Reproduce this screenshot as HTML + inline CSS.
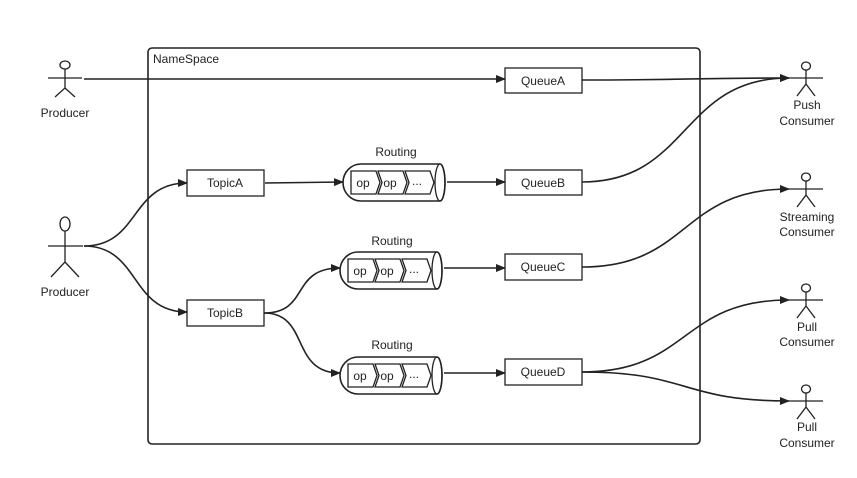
<!DOCTYPE html><html><head><style>body{margin:0;background:#fff}svg{display:block}text{font-family:"Liberation Sans",sans-serif;font-size:12px;fill:#222}</style></head><body>
<svg width="857" height="478" viewBox="0 0 857 478">
<defs><marker id="a" markerWidth="10" markerHeight="8" refX="9" refY="4" orient="auto" markerUnits="userSpaceOnUse"><path d="M0,0L10,4L0,8z" fill="#222"/></marker>
<g id="cyl" fill="none" stroke="#222" stroke-width="1.3"><path d="M18,0H97A5,18.5 0 0 1 97,37H18A18,18.5 0 0 1 18,0z" fill="#fff" stroke-width="1.6"/><ellipse cx="97" cy="18.5" rx="5" ry="18.5"/>
<path d="M8,7H33L37,18.5L33,30H8z"/><path d="M35,7H60L64,18.5L60,30H35L39,18.5z"/><path d="M62,7H87L91,18.5L87,30H62L66,18.5z"/></g>
<g id="cact" stroke="#222" stroke-width="1.3" fill="none"><ellipse cx="0" cy="-12" rx="4.5" ry="4"/><path d="M-17,0H17M0,-8V6L-9,18M0,6L9,18"/></g></defs>
<rect x="148" y="48" width="552" height="396" rx="4" fill="none" stroke="#222" stroke-width="1.6"/>
<text x="153" y="63">NameSpace</text>
<g stroke="#222" stroke-width="1.3" fill="none">
<ellipse cx="65" cy="65" rx="5" ry="4"/><path d="M48,78H82M65,69V88L55,97M65,88L75,97"/>
<ellipse cx="65" cy="224" rx="5" ry="7"/><path d="M48,246H83M65,231V262L51,277M65,262L79,277"/>
</g>
<use href="#cact" x="806" y="78"/><use href="#cact" x="806" y="189"/><use href="#cact" x="806" y="300"/><use href="#cact" x="806" y="401"/>
<g font-size="12" text-anchor="middle">
<text x="65" y="117" text-anchor="middle">Producer</text><text x="65" y="296" text-anchor="middle">Producer</text>
<text x="807" y="109" text-anchor="middle">Push</text><text x="807" y="125" text-anchor="middle">Consumer</text>
<text x="807" y="221" text-anchor="middle">Streaming</text><text x="807" y="236" text-anchor="middle">Consumer</text>
<text x="807" y="331" text-anchor="middle">Pull</text><text x="807" y="346" text-anchor="middle">Consumer</text>
<text x="807" y="431" text-anchor="middle">Pull</text><text x="807" y="447" text-anchor="middle">Consumer</text>
</g>
<g fill="#fff" stroke="#222" stroke-width="1.3">
<rect x="505" y="68" width="77" height="25"/><rect x="187" y="170" width="77" height="26"/><rect x="505" y="170" width="77" height="25"/>
<rect x="505" y="254" width="77" height="26"/><rect x="187" y="300" width="77" height="26"/><rect x="505" y="359" width="77" height="26"/>
</g>
<text x="543" y="85" text-anchor="middle">QueueA</text><text x="225" y="187" text-anchor="middle">TopicA</text><text x="543" y="187" text-anchor="middle">QueueB</text>
<text x="543" y="271" text-anchor="middle">QueueC</text><text x="225" y="317" text-anchor="middle">TopicB</text><text x="543" y="376" text-anchor="middle">QueueD</text>
<use href="#cyl" x="343" y="164"/><use href="#cyl" x="340" y="252"/><use href="#cyl" x="340" y="357"/>
<g font-size="11" text-anchor="middle"><text x="396" y="156" text-anchor="middle">Routing</text><text x="392" y="245" text-anchor="middle">Routing</text><text x="392" y="349" text-anchor="middle">Routing</text>
<text x="363" y="187" text-anchor="middle">op</text><text x="390" y="187" text-anchor="middle">op</text><text x="417" y="185" text-anchor="middle" font-size="9">...</text>
<text x="360" y="275" text-anchor="middle">op</text><text x="387" y="275" text-anchor="middle">op</text><text x="414" y="273" text-anchor="middle" font-size="9">...</text>
<text x="360" y="380" text-anchor="middle">op</text><text x="387" y="380" text-anchor="middle">op</text><text x="414" y="378" text-anchor="middle" font-size="9">...</text></g>
<g fill="none" stroke="#222" stroke-width="1.6" marker-end="url(#a)">
<path d="M84,79H505"/><path d="M582,80C690,80 690,78 789,78"/>
<path d="M84,246C140,246 130,183 187,183"/><path d="M84,246C140,246 130,312 187,312"/>
<path d="M265,183L343,182"/><path d="M447,182H505"/>
<path d="M582,182C690,182 680,78 789,78"/>
<path d="M264,313C310,313 290,268 340,268"/><path d="M264,313C310,313 290,373 340,373"/>
<path d="M444,268H505"/><path d="M444,373H505"/>
<path d="M582,267C690,267 680,189 789,189"/>
<path d="M582,372C690,372 680,300 789,300"/><path d="M582,372C690,372 680,401 789,401"/>
</g>
</svg></body></html>
